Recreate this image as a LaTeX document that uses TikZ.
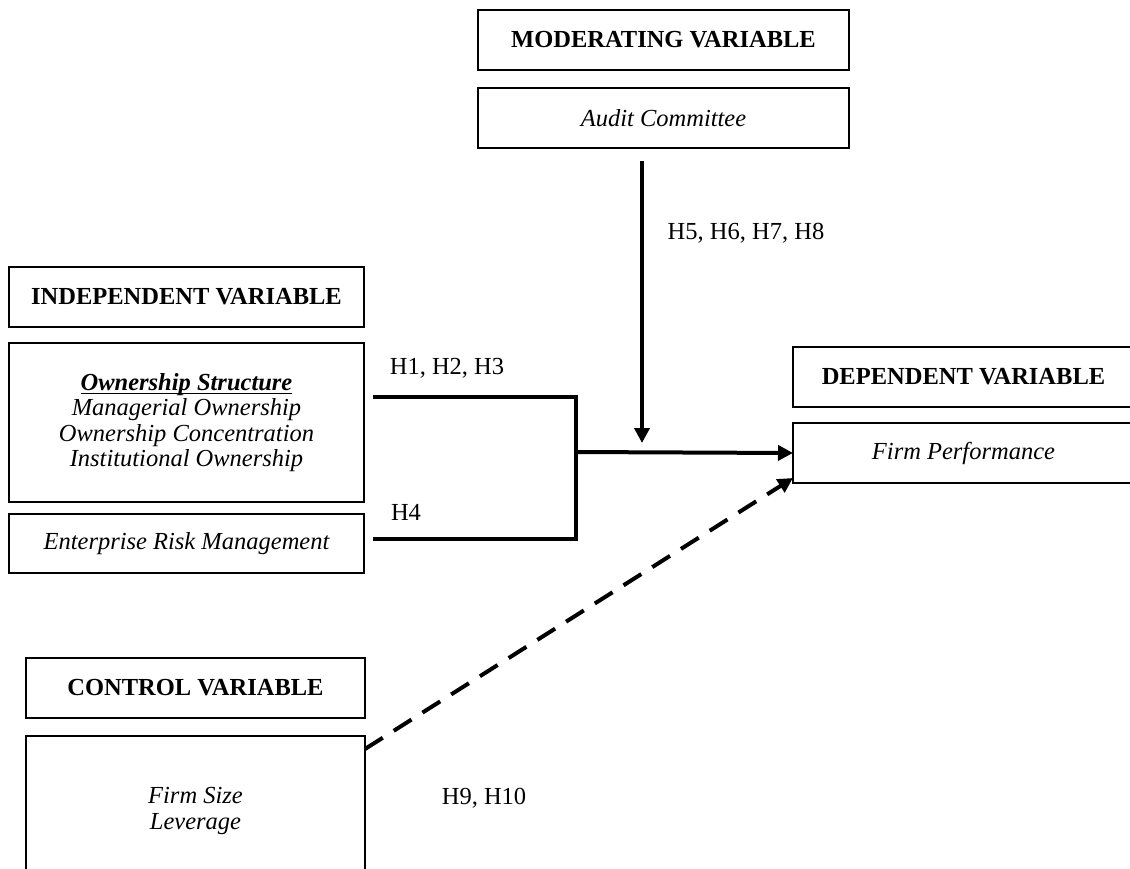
\documentclass[tikz,border=0pt]{standalone}
\usepackage{fontspec}
\setmainfont{Liberation Serif}
\usetikzlibrary{arrows.meta}

\newcommand{\thickul}[1]{\setbox0\hbox{#1}\rlap{\rule[-4pt]{\wd0}{1.6pt}}\box0}

\begin{document}
\begin{tikzpicture}[x=1pt,y=-1pt,>={Triangle[length=15pt,width=15pt]},
	line width=4pt,font=\fontsize{24.5}{25.5}\selectfont]
	
	\tikzstyle{box}=[draw,line width=1.6pt,inner sep=0pt,outer sep=0pt,align=center]
	\tikzstyle{head}=[box,font=\fontsize{24.5}{25.5}\selectfont\bfseries]
	\tikzstyle{var}=[box,font=\fontsize{24.5}{25.5}\selectfont\itshape]
	\tikzstyle{hyp}=[font=\fontsize{24.5}{25.5}\selectfont]
	
	\useasboundingbox (0,0) rectangle (1130,868);
	\clip (0,0) rectangle (1130,868);
	
	% moderating
	\node[head,minimum width=371pt,minimum height=60pt] (modhead) at (663.5,40) {MODERATING VARIABLE};
	\node[var,minimum width=371pt,minimum height=60pt]  (audit)   at (663.5,118) {Audit Committee};
	
	% independent
	\node[head,minimum width=355pt,minimum height=60pt]  (indhead) at (186.5,297) {INDEPENDENT VARIABLE};
	\node[var,minimum width=355pt,minimum height=159pt]  (own)     at (186.5,422.5)
	{\thickul{\textbf{Ownership Structure}}\\Managerial Ownership\\Ownership Concentration\\Institutional Ownership};
	\node[var,minimum width=355pt,minimum height=59pt]   (erm)     at (186.5,543.5) {Enterprise Risk Management};
	
	% dependent
	\node[head,minimum width=341pt,minimum height=60pt] (dephead) at (963.5,377) {DEPENDENT VARIABLE};
	\node[var,minimum width=341pt,minimum height=60pt]  (perf)    at (963.5,453) {Firm Performance};
	
	% control
	\node[head,minimum width=339pt,minimum height=60pt]  (ctrlhead) at (195.5,688) {CONTROL VARIABLE};
	\node[var,minimum width=339pt,minimum height=150pt]  (ctrl)     at (195.5,811) {Firm Size\\Leverage};
	
	% hypotheses
	\node[hyp] (h123) at (447,368) {H1, H2, H3};
	\node[hyp] (h4)   at (406,512) {H4};
	\node[hyp] (h5to8) at (746,233) {H5, H6, H7, H8};
	\node[hyp] (h910) at (484,798) {H9, H10};
	
	\coordinate (o1) at (373,397);
	\coordinate (e1) at (373,539);
	\coordinate (j1) at (576,397);
	\coordinate (j2) at (576,539);
	\coordinate (join) at (576,452);
	\coordinate (m1) at (642,161);
	\coordinate (m2) at (642,443);
	\coordinate (c1) at (365,749);
	
	\draw[line join=miter] (o1) -- (j1) -- (j2) -- (e1);
	\draw[->] (join) -- (perf.west);
	\draw[->] (m1) -- (m2);
	\draw[->,dash pattern=on 21pt off 13pt] (c1) -- ([yshift=5pt]perf.south west);
\end{tikzpicture}
\end{document}
